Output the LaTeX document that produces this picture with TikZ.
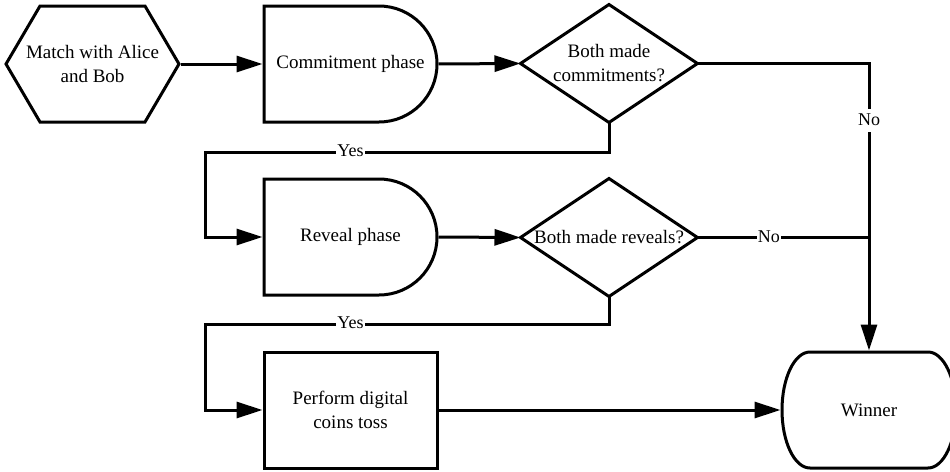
\documentclass[tikz,border=0pt]{standalone}
\usepackage{fontspec}
\setmainfont{Liberation Serif}
\usetikzlibrary{arrows.meta}
\begin{document}
\begin{tikzpicture}[x=1pt,y=-1pt,line width=3pt]
\tikzset{
  box/.style={minimum width=173pt, minimum height=116pt, inner sep=0pt, align=center, font=\fontsize{19}{24}\selectfont},
  arr/.style={-{Triangle[length=26pt,width=16pt]}},
  lbl/.style={fill=white, font=\fontsize{18}{20}\selectfont, inner xsep=1pt, inner ysep=3pt, text height=13pt, text depth=4pt},
  delayshape/.style={shift={(#1.center)}},
}
\useasboundingbox (0,0) rectangle (950,471);
\clip (0,0) rectangle (950,471);

% nodes
\node[box] (start) at (92.5,64) {Match with Alice\\and Bob};
\node[box] (commit) at (350.5,64) {Commitment phase};
\node[box,minimum width=174pt,minimum height=115pt] (dec1) at (609,63.5) {Both made\\commitments?};
\node[box] (reveal) at (350.5,237) {Reveal phase};
\node[box,minimum width=174pt,minimum height=115pt] (dec2) at (609,237.5) {Both made reveals?};
\node[box,draw] (toss) at (350.5,410) {Perform digital\\coins toss};
\node[box,minimum width=174pt] (win) at (869,410) {Winner};

% outlines
\draw[shift={(start.center)}] (-52.5,-58) -- (52.5,-58) -- (86.5,0) -- (52.5,58) -- (-52.5,58) -- (-86.5,0) -- cycle;
\draw[delayshape=commit] (-86.5,-58) -- (28.5,-58) .. controls (60.5,-58) and (86.5,-32) .. (86.5,0) .. controls (86.5,32) and (60.5,58) .. (28.5,58) -- (-86.5,58) -- cycle;
\draw[delayshape=reveal] (-86.5,-58) -- (28.5,-58) .. controls (60.5,-58) and (86.5,-32) .. (86.5,0) .. controls (86.5,32) and (60.5,58) .. (28.5,58) -- (-86.5,58) -- cycle;
\draw (dec1.north) -- (dec1.east) -- (dec1.south) -- (dec1.west) -- cycle;
\draw (dec2.north) -- (dec2.east) -- (dec2.south) -- (dec2.west) -- cycle;
\draw[shift={(win.center)}] (-59,-58) -- (59,-58) .. controls (74.5,-58) and (87,-32) .. (87,0) .. controls (87,32) and (74.5,58) .. (59,58) -- (-59,58) .. controls (-74.5,58) and (-87,32) .. (-87,0) .. controls (-87,-32) and (-74.5,-58) .. (-59,-58) -- cycle;

% connector bends
\coordinate (y1) at (205,152);
\coordinate (y2) at (205,324);

% connectors
\draw[arr] (start.east) -- (commit.west);
\draw[arr] (commit.east) -- (dec1.west);
\draw[arr] (dec1.east) -| node[lbl,pos=0.6]{No} (win.north);
\draw[arr] (dec1.south) |- node[lbl,pos=0.82]{Yes} (y1) |- (reveal.west);
\draw[arr] (reveal.east) -- (dec2.west);
\draw (dec2.east) -- node[lbl,pos=0.416]{No} (dec2.east -| win.north);
\draw[arr] (dec2.south) |- node[lbl,pos=0.82]{Yes} (y2) |- (toss.west);
\draw[arr] (toss.east) -- (win.west);
\end{tikzpicture}
\end{document}
